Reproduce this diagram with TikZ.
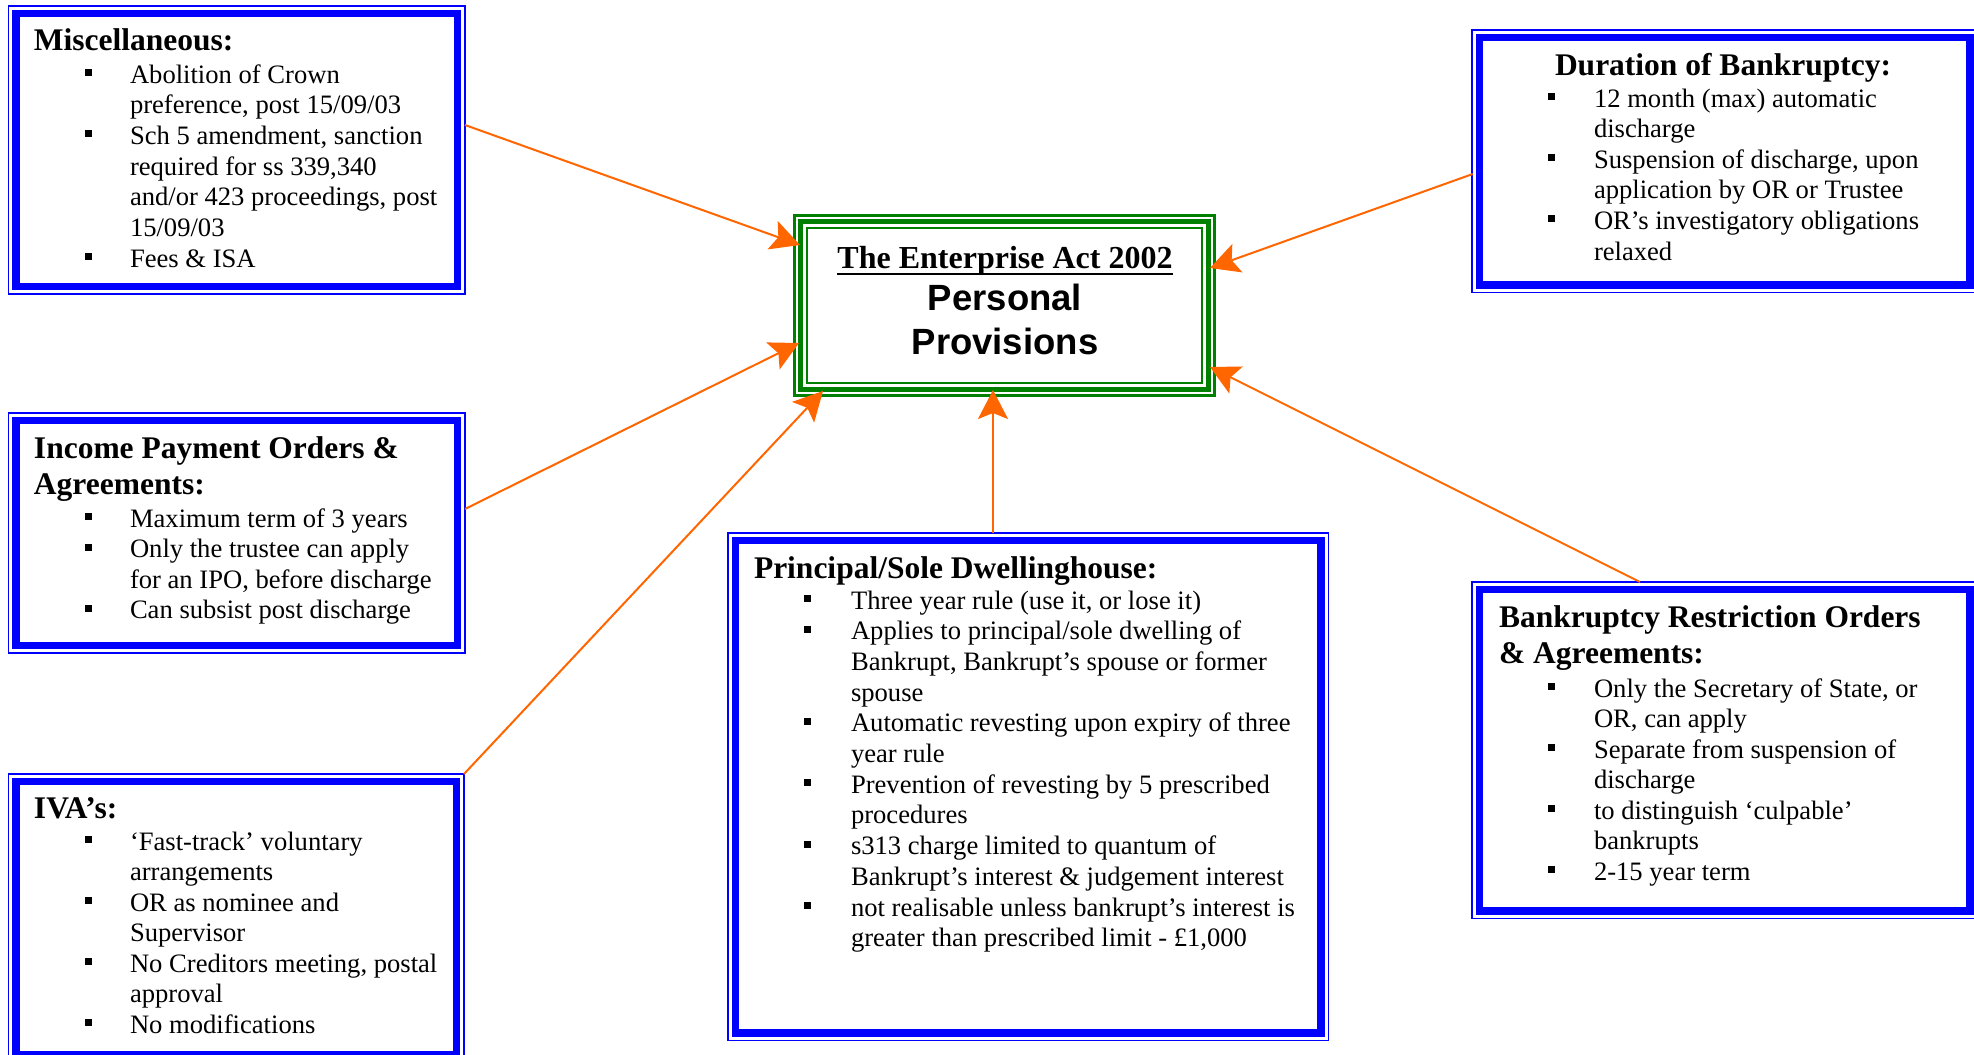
\documentclass[tikz,border=0pt]{standalone}
\usepackage{fontspec}
\setmainfont{Liberation Serif}
\newfontfamily\sansb{Liberation Sans}
\usetikzlibrary{arrows.meta,calc}
\definecolor{fblue}{RGB}{0,0,255}
\definecolor{fgreen}{RGB}{0,128,0}
\definecolor{forange}{RGB}{255,102,0}
\newcommand\bu[1][38pt]{\leavevmode\llap{\rule[7pt]{7pt}{7pt}\hspace{#1}}\ignorespaces}
\newcommand\bodyset[1]{\fontsize{26.6pt}{#1}\selectfont\raggedright\parindent=0pt\parskip=0pt\lineskiplimit=-100pt\relax}
\newcommand\headset{\fontsize{31.5pt}{36pt}\selectfont\bfseries\raggedright\lineskiplimit=-100pt\relax}
\newcommand\bluefr[1]{%
  \draw[fblue, line width=7.5pt] ([shift={(7.5,7.5)}]#1.north west) rectangle ([shift={(-7.5,-7.5)}]#1.south east);}
\tikzset{
  boxf/.style={draw=fblue, line width=1.3pt, rectangle, outer sep=0pt, inner sep=0pt, anchor=north west},
  ctrbox/.style={draw=fgreen, line width=3pt, rectangle, outer sep=0pt, inner sep=0pt, anchor=north west},
  txt/.style={anchor=base west, inner sep=0pt, outer sep=0pt},
  arr/.style={draw=forange, line width=2pt, -{Stealth[length=29pt, width=30pt, inset=6pt]}},
}
\begin{document}
\begin{tikzpicture}[x=1pt, y=-1pt]
\clip (0,0) rectangle (1974,1055);
\fill[white] (0,0) rectangle (1974,1055);

% boxes
\node[boxf, minimum width=456.7pt, minimum height=288pt] (misc) at (8.3,6) {};
\node[boxf, minimum width=505.5pt, minimum height=262.7pt] (dur) at (1472,30) {};
\node[boxf, minimum width=456.7pt, minimum height=240pt] (inc) at (8.3,413) {};
\node[boxf, minimum width=455.7pt, minimum height=288pt] (iva) at (8.3,774) {};
\node[boxf, minimum width=600.6pt, minimum height=507.5pt] (pri) at (728,533) {};
\node[boxf, minimum width=505.5pt, minimum height=336.3pt] (bro) at (1472,582) {};
\bluefr{misc}\bluefr{dur}\bluefr{inc}\bluefr{iva}\bluefr{pri}\bluefr{bro}

\node[ctrbox, minimum width=420pt, minimum height=180pt] (ctr) at (794.5,215.5) {};
\draw[fgreen, line width=4.5pt] ([shift={(6,6)}]ctr.north west) rectangle ([shift={(-6,-6)}]ctr.south east);
\draw[fgreen, line width=2.5pt] ([shift={(12.5,12.5)}]ctr.north west) rectangle ([shift={(-12.5,-12.5)}]ctr.south east);

% centre texts
\node[anchor=base, inner sep=0pt, font=\fontsize{32pt}{36pt}\selectfont\bfseries] (title) at (1005,268) {The Enterprise Act 2002};
\draw[line width=2pt] ([yshift=-6pt]title.base west) -- ([yshift=-6pt]title.base east);
\node[anchor=base, inner sep=0pt, font=\sansb\fontsize{36.5pt}{44pt}\selectfont\bfseries] (pers) at (1005,310) {Personal};
\node[anchor=base, inner sep=0pt, font=\sansb\fontsize{36.5pt}{44pt}\selectfont\bfseries] (prov) at (1005,354) {Provisions};

% Miscellaneous
\node[txt] (miscH) at (34,50) {\parbox[t]{420pt}{\headset Miscellaneous:}};
\node[txt] (miscB) at (130,83) {\parbox[t]{330pt}{\bodyset{30.67pt}%
\bu Abolition of Crown\\
preference, post 15/09/03\\
\bu Sch 5 amendment, sanction\\
required for ss 339,340\\
and/or 423 proceedings, post\\
15/09/03\\
\bu Fees \& ISA}};

% Duration
\node[anchor=base, inner sep=0pt, font=\fontsize{31.5pt}{36pt}\selectfont\bfseries] (durH) at (1723,75) {Duration of Bankruptcy:};
\node[txt] (durB) at (1594,107) {\parbox[t]{370pt}{\bodyset{30.6pt}%
\bu[39pt] 12 month (max) automatic\\
discharge\\
\bu[39pt] Suspension of discharge, upon\\
application by OR or Trustee\\
\bu[39pt] OR’s investigatory obligations\\
relaxed}};

% Income
\node[txt] (incH) at (34,458) {\parbox[t]{420pt}{\headset Income Payment Orders \&\\ Agreements:}};
\node[txt] (incB) at (130,527) {\parbox[t]{330pt}{\bodyset{30.6pt}%
\bu Maximum term of 3 years\\
\bu Only the trustee can apply\\
for an IPO, before discharge\\
\bu Can subsist post discharge}};

% IVA
\node[txt] (ivaH) at (34,818) {\parbox[t]{420pt}{\headset IVA’s:}};
\node[txt] (ivaB) at (130,850) {\parbox[t]{330pt}{\bodyset{30.5pt}%
\bu ‘Fast-track’ voluntary\\
arrangements\\
\bu OR as nominee and\\
Supervisor\\
\bu No Creditors meeting, postal\\
approval\\
\bu No modifications}};

% Principal
\node[txt] (priH) at (754,578) {\parbox[t]{540pt}{\headset Principal/Sole Dwellinghouse:}};
\node[txt] (priB) at (851,609) {\parbox[t]{470pt}{\bodyset{30.7pt}%
\bu[40pt] Three year rule (use it, or lose it)\\
\bu[40pt] Applies to principal/sole dwelling of\\
Bankrupt, Bankrupt’s spouse or former\\
spouse\\
\bu[40pt] Automatic revesting upon expiry of three\\
year rule\\
\bu[40pt] Prevention of revesting by 5 prescribed\\
procedures\\
\bu[40pt] s313 charge limited to quantum of\\
Bankrupt’s interest \& judgement interest\\
\bu[40pt] not realisable unless bankrupt’s interest is\\
greater than prescribed limit - £1,000}};

% BRO
\node[txt] (broH) at (1499,627) {\parbox[t]{460pt}{\headset Bankruptcy Restriction Orders\\ \& Agreements:}};
\node[txt] (broB) at (1594,697) {\parbox[t]{370pt}{\bodyset{30.5pt}%
\bu[39pt] Only the Secretary of State, or\\
OR, can apply\\
\bu[39pt] Separate from suspension of\\
discharge\\
\bu[39pt] to distinguish ‘culpable’\\
bankrupts\\
\bu[39pt] 2-15 year term}};

% connectors
\draw[arr] ([shift={(0,119)}]misc.north east) -- ([shift={(5.5,29.5)}]ctr.north west);
\draw[arr] ([shift={(0.7,144)}]dur.north west) -- ([shift={(-4.5,52.5)}]ctr.north east);
\draw[arr] ([shift={(0,96)}]inc.north east) -- ([shift={(4.5,127.5)}]ctr.north west);
\draw[arr] (iva.north east) -- ([shift={(28.5,-4.5)}]ctr.south west);
\draw[arr] ([shift={(-35.3,0)}]pri.north) -- ([shift={(-11.5,-5.5)}]ctr.south);
\draw[arr] ([shift={(168,0)}]bro.north west) -- ([shift={(-4.5,-28.5)}]ctr.south east);
\end{tikzpicture}
\end{document}
